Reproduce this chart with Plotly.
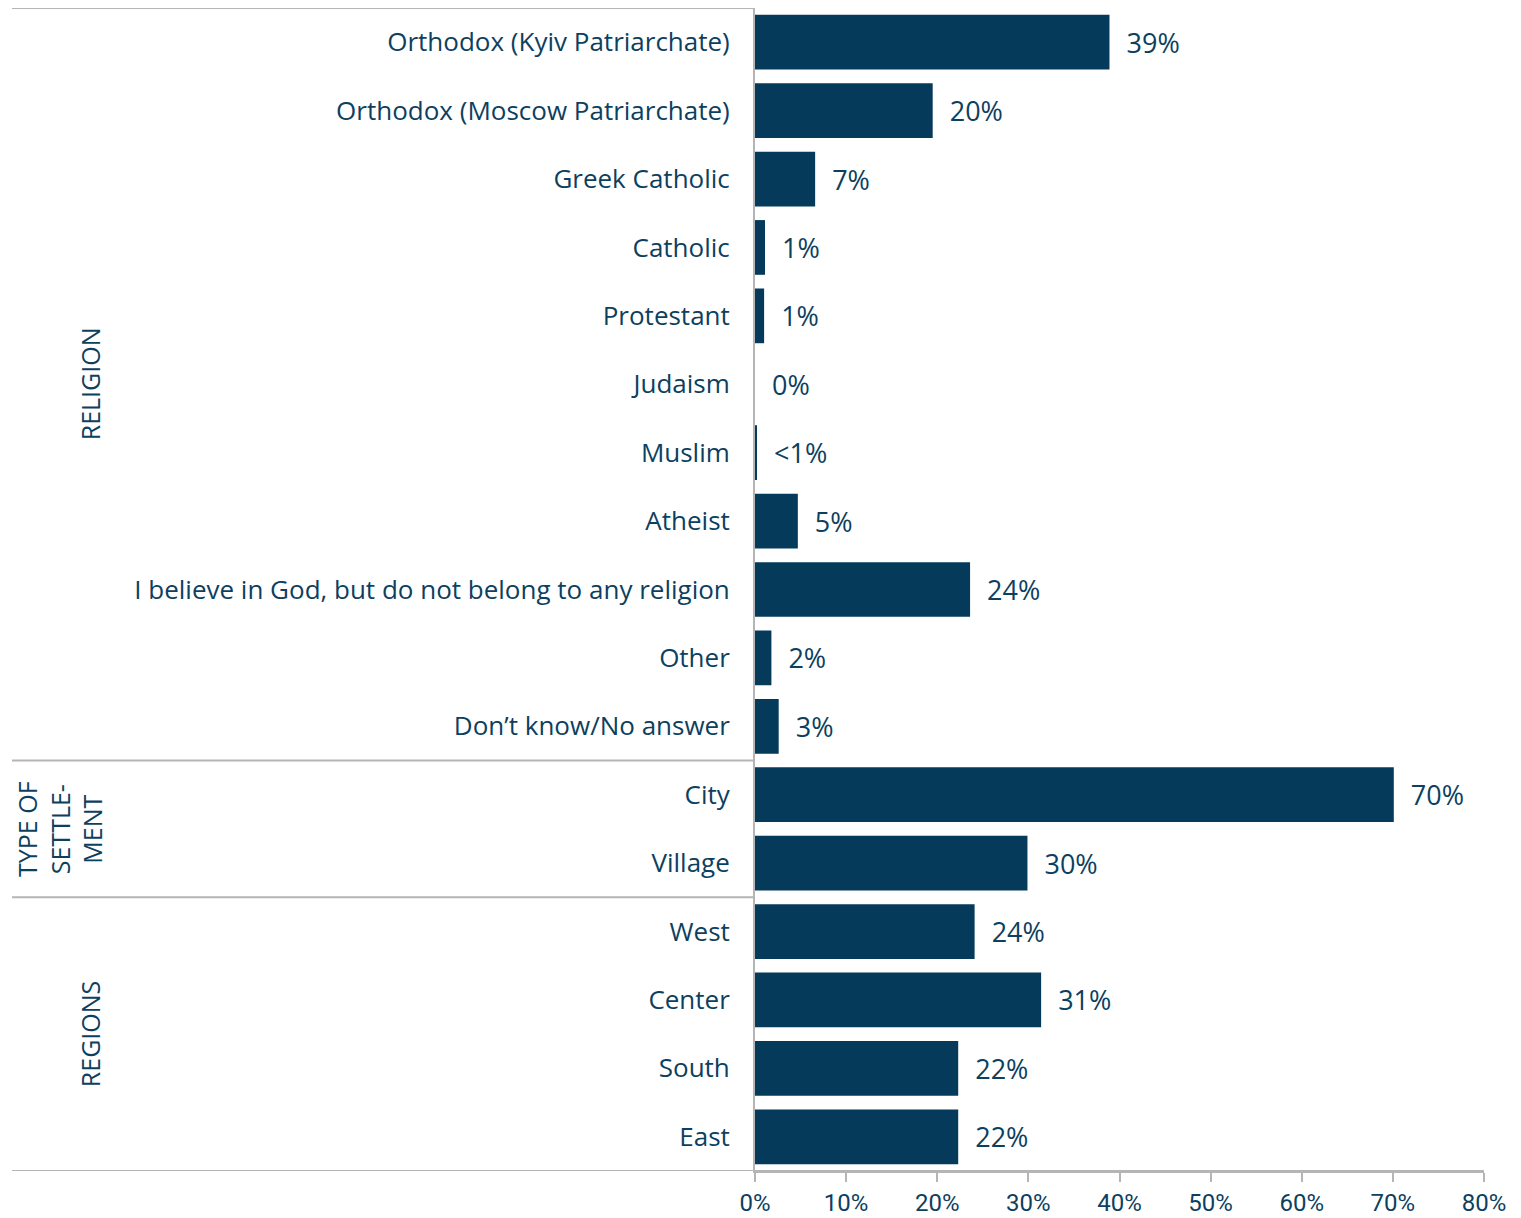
import plotly.graph_objects as go

categories = [
    "Orthodox (Kyiv Patriarchate)", "Orthodox (Moscow Patriarchate)", "Greek Catholic",
    "Catholic", "Protestant", "Judaism", "Muslim", "Atheist",
    "I believe in God, but do not belong to any religion", "Other", "Don\u2019t know/No answer",
    "City", "Village",
    "West", "Center", "South", "East",
]
values = [38.9, 19.5, 6.6, 1.1, 1.0, 0.0, 0.2, 4.7, 23.6, 1.8, 2.6,
          70.1, 29.9,
          24.1, 31.4, 22.3, 22.3]
value_labels = ["39%", "20%", "7%", "1%", "1%", "0%", "<1%", "5%", "24%", "2%", "3%",
                "70%", "30%",
                "24%", "31%", "22%", "22%"]
groups = ["RELIGION", "TYPE OF<br>SETTLE-<br>MENT", "REGIONS"]
group_rows = [(0, 10), (11, 12), (13, 16)]
tick_vals = [0, 10, 20, 30, 40, 50, 60, 70, 80]
tick_text = ["0%", "10%", "20%", "30%", "40%", "50%", "60%", "70%", "80%"]

navy = "#053a5b"
text_col = "#0d3f5f"
grid = "#b5b5b5"
font = "Open Sans"
narrow = "Liberation Sans Narrow, Roboto, Open Sans"

# the page adds an 8px body margin, so the figure is placed with that in mind
W, H = 1513, 1210
off = 8
x0, x1 = 755 - off, 1484 - off
px_to_paper = lambda p: (p - off - x0) / (x1 - x0)

fig = go.Figure(go.Bar(
    x=values, y=list(range(len(categories))), orientation="h",
    marker=dict(color=navy, line=dict(width=0)),
    text=value_labels, texttemplate="  %{text}", textposition="outside", cliponaxis=False,
    textfont=dict(family=font, size=27, color=text_col),
))

shapes = []
# top border and group separators
for yb in [-0.5, 10.5, 12.5]:
    shapes.append(dict(type="line", xref="paper", yref="y", x0=px_to_paper(12), x1=0,
                       y0=yb, y1=yb, line=dict(color=grid, width=2)))
# bottom line extending left
shapes.append(dict(type="line", xref="paper", yref="y", x0=px_to_paper(12), x1=1,
                   y0=16.5, y1=16.5, line=dict(color=grid, width=2)))

annotations = []
group_x = [90, 60, 90]
for g, (a, b), gx in zip(groups, group_rows, group_x):
    annotations.append(dict(text=g, xref="paper", yref="y", x=px_to_paper(gx), y=(a + b) / 2,
                            textangle=-90, showarrow=False, xanchor="center", yanchor="middle",
                            font=dict(family=font, size=25, color=text_col), align="center"))

fig.update_layout(
    width=W, height=H,
    margin=dict(l=x0, r=W - x1, t=0, b=H - (1171 - off)),
    plot_bgcolor="white", paper_bgcolor="white",
    bargap=0.2, showlegend=False,
    shapes=shapes, annotations=annotations,
    xaxis=dict(range=[0, 80], tickvals=tick_vals, ticktext=tick_text, showgrid=False,
               showline=True, linecolor=grid, linewidth=2, ticks="outside", ticklen=9,
               tickcolor=grid, tickwidth=2, zeroline=False,
               tickfont=dict(family=narrow, size=24, color=text_col)),
    yaxis=dict(tickvals=list(range(len(categories))), ticktext=categories,
               range=[16.5, -0.5], showgrid=False, showline=True, linecolor=grid, linewidth=2,
               ticks="", ticklabelstandoff=18, zeroline=False,
               tickfont=dict(family=font, size=26, color=text_col)),
)

fig.write_html("out.html")
